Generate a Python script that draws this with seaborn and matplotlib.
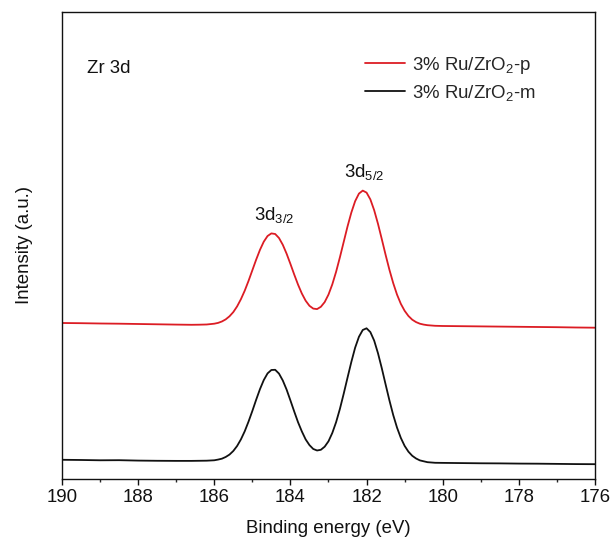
import matplotlib
matplotlib.use("Agg")
import matplotlib.pyplot as plt
import seaborn as sns
import pandas as pd
from matplotlib.ticker import MultipleLocator

# Binding energy (eV)
energy = [190.0, 189.5, 189.0, 188.5, 188.0, 187.5, 187.0, 186.6, 186.4, 186.2,
          186.0, 185.9, 185.8, 185.7, 185.6, 185.5, 185.4, 185.3, 185.2, 185.1,
          185.0, 184.9, 184.8, 184.7, 184.6, 184.5, 184.4, 184.3, 184.2, 184.1,
          184.0, 183.9, 183.8, 183.7, 183.6, 183.5, 183.4, 183.3, 183.2, 183.1,
          183.0, 182.9, 182.8, 182.7, 182.6, 182.5, 182.4, 182.3, 182.2, 182.1,
          182.0, 181.9, 181.8, 181.7, 181.6, 181.5, 181.4, 181.3, 181.2, 181.1,
          181.0, 180.9, 180.8, 180.7, 180.6, 180.5, 180.4,
          180.2, 180.0, 179.5, 179.0, 178.5, 178.0, 177.5, 177.0, 176.5, 176.0]

# 3% Ru/ZrO2-p (red, offset)
intensity_p = [156.0, 155.8, 155.5, 155.3, 155.0, 154.7, 154.4, 154.2, 154.3, 154.5,
               155.3, 156.1, 157.5, 159.6, 162.7, 166.9, 172.6, 179.8, 188.3, 198.1,
               208.7, 219.3, 229.1, 237.3, 243.0, 245.6, 245.0, 241.0, 234.2, 225.3,
               215.1, 204.5, 194.4, 185.5, 178.3, 173.2, 170.4, 169.9, 172.2, 176.9,
               184.4, 194.6, 207.2, 221.7, 237.1, 252.5, 266.4, 277.8, 285.4, 288.4,
               286.4, 279.6, 268.8, 255.2, 239.9, 224.2, 209.3, 195.9, 184.4, 175.2,
               168.2, 163.0, 159.3, 156.9, 155.3, 154.4, 153.8,
               153.2, 153.0, 152.8, 152.6, 152.4, 152.2, 152.0, 151.8, 151.5, 151.3]

# 3% Ru/ZrO2-m (black)
intensity_m = [19.2, 19.0, 18.7, 18.8, 18.4, 18.2, 18.1, 18.1, 18.2, 18.3,
               18.7, 19.4, 20.3, 22.0, 24.4, 28.0, 33.0, 39.6, 47.7, 57.4,
               68.0, 79.2, 89.8, 98.9, 105.6, 109.0, 109.2, 105.4, 98.5, 89.4,
               78.6, 67.5, 56.8, 47.6, 39.6, 33.9, 30.0, 28.5, 29.2, 32.3,
               37.7, 46.0, 56.8, 70.1, 85.3, 101.3, 117.0, 131.3, 142.2, 149.0,
               150.7, 146.9, 138.4, 125.8, 110.8, 94.6, 78.7, 64.0, 51.4, 41.1,
               33.1, 27.3, 23.2, 20.5, 18.6, 17.7, 16.8,
               16.2, 16.1, 15.9, 15.7, 15.6, 15.4, 15.3, 15.1, 14.9, 14.8]

labels = ["3% Ru/ZrO$_2$-p", "3% Ru/ZrO$_2$-m"]
peak_labels = ["3d$_{3/2}$", "3d$_{5/2}$"]
peak_pos = [184.43, 182.07]
peak_text_y = [259, 302]

sns.set_style("ticks")
plt.rcParams["font.family"] = ["Liberation Sans", "DejaVu Sans"]
plt.rcParams["mathtext.fontset"] = "custom"
plt.rcParams["mathtext.rm"] = "Liberation Sans"
plt.rcParams["mathtext.it"] = "Liberation Sans:italic"
plt.rcParams["mathtext.bf"] = "Liberation Sans:bold"

df = pd.DataFrame({"energy": energy, "p": intensity_p, "m": intensity_m})

fig = plt.figure(figsize=(6.16, 5.51), dpi=100)
ax = fig.add_axes([0.1006, 0.1307, 0.8653, 0.8475])

sns.lineplot(data=df, x="energy", y="p", ax=ax, color="#dc1c24", lw=1.3,
             label=labels[0], sort=False)
sns.lineplot(data=df, x="energy", y="m", ax=ax, color="#111111", lw=1.3,
             label=labels[1], sort=False)

ax.set_xlim(190, 176)
ax.set_ylim(0, 467)
ax.xaxis.set_major_locator(MultipleLocator(2))
ax.xaxis.set_minor_locator(MultipleLocator(1))
ax.set_yticks([])
ax.tick_params(axis="x", which="major", direction="out", length=4.3, width=1.0,
               labelsize=13.4, pad=3, colors="#111111")
ax.tick_params(axis="x", which="minor", direction="out", length=2.5, width=1.0)
for s in ax.spines.values():
    s.set_linewidth(1.0)
    s.set_color("#111111")

ax.set_xlabel("Binding energy (eV)", fontsize=13.4, labelpad=10, color="#111111")
ax.set_ylabel("Intensity (a.u.)", fontsize=13.4, labelpad=21, color="#111111")

ax.text(0.047, 0.869, "Zr 3d", transform=ax.transAxes, fontsize=13.4,
        ha="left", va="baseline", color="#111111")
for lab, xp, yp in zip(peak_labels, peak_pos, peak_text_y):
    ax.text(xp, yp, lab, fontsize=13.4, ha="center", va="baseline", color="#111111")

leg = ax.legend(loc="upper left", bbox_to_anchor=(0.555, 0.924), frameon=False,
                fontsize=13.4, handlelength=2.15, handletextpad=0.37,
                labelspacing=0.37, borderaxespad=0)

fig.savefig("out.png", dpi=100)
